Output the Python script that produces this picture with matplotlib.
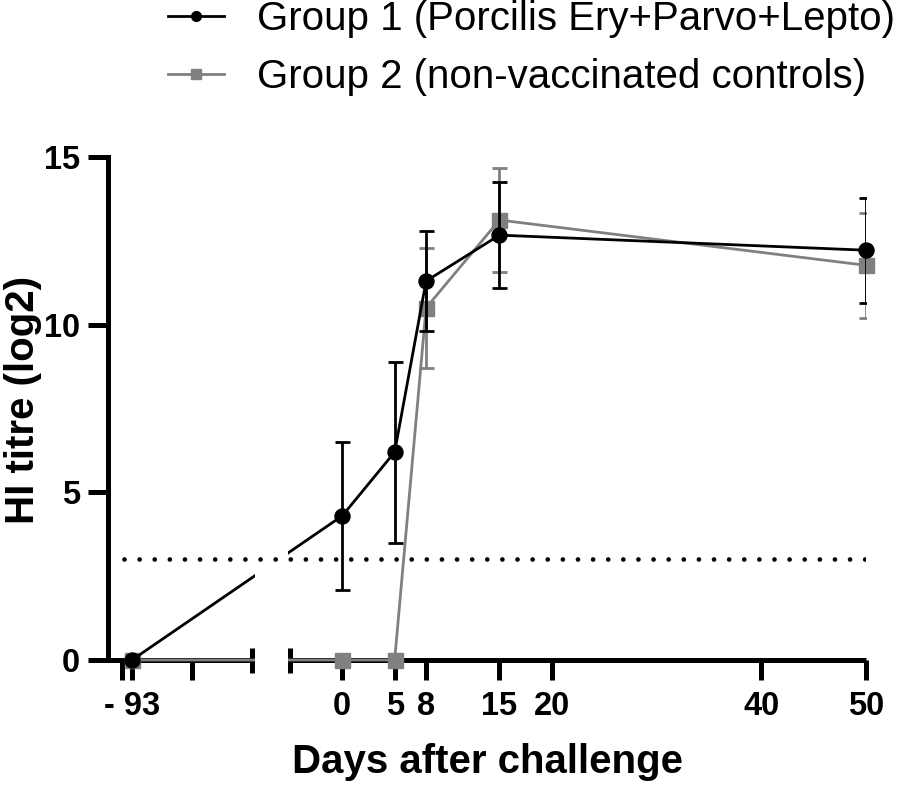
import matplotlib
matplotlib.use('Agg')
import matplotlib.pyplot as plt
import numpy as np
from matplotlib.lines import Line2D
from matplotlib.patches import Rectangle

plt.rcParams['font.family'] = ['Liberation Sans', 'DejaVu Sans']

# data
days = np.array([-93, 0, 5, 8, 15, 50])
g1_mean = np.array([0, 4.3, 6.2, 11.3, 12.67, 12.22])
g1_sd = np.array([0, 2.2, 2.7, 1.5, 1.58, 1.56])
g2_mean = np.array([0, 0, 0, 10.5, 13.12, 11.77])
g2_sd = np.array([0, 0, 0, 1.8, 1.56, 1.57])
threshold = 3

xticks = [-95, -93, -81, 0, 5, 8, 15, 20, 40, 50]
xticklabels = ['', '- 93', '', '0', '5', '8', '15', '20', '40', '50']
yticks = [0, 5, 10, 15]
labels = ['Group 1 (Porcilis Ery+Parvo+Lepto)', 'Group 2 (non-vaccinated controls)']

# broken x axis: piecewise linear scale (left block compressed, gap in between)
seg_x = [-1000, -69, -5, 1000]
seg_u = [132 + 5 * (-1000 + 93), 252, 290, 342 + 10.48 * 1000]


def fwd(x):
    return np.interp(x, seg_x, seg_u)


def inv(u):
    return np.interp(u, seg_u, seg_x)


W, H = 907, 787
fig = plt.figure(figsize=(W / 100, H / 100), dpi=100)
ax = fig.add_axes([108 / W, 1 - 660 / H, (866 - 108) / W, (660 - 157) / H])
ax.set_xscale('function', functions=(fwd, inv))
ax.set_xlim(-97.8, 50)
ax.set_ylim(0, 15)

grey = '#808080'
lw_axis = 3.6
lw_data = 2.0
ms = 10.8

# group 2 (grey) first, group 1 on top
ax.plot(days, g2_mean, color=grey, lw=lw_data, marker='s', ms=ms, clip_on=False, zorder=3)
m2 = g2_sd > 0
ax.errorbar(days[m2], g2_mean[m2], yerr=g2_sd[m2], fmt='none', ecolor=grey,
            elinewidth=lw_data, capsize=5.4, capthick=lw_data, zorder=3)
ax.plot(days, g1_mean, color='black', lw=lw_data, marker='o', ms=ms, clip_on=False, zorder=3.5)
m1 = g1_sd > 0
ax.errorbar(days[m1], g1_mean[m1], yerr=g1_sd[m1], fmt='none', ecolor='black',
            elinewidth=lw_data, capsize=5.4, capthick=lw_data, zorder=3.5)

# white gap hiding the lines at the axis break
ax.add_patch(Rectangle((-64, -0.3), -8.4 - (-64), 15.6, facecolor='white',
                       edgecolor='none', clip_on=False, zorder=4))

# dotted threshold line
ax.plot([-94.6, 50], [threshold, threshold], color='black', lw=3.4,
        ls=(0, (0.001, 3.2)), dash_capstyle='round', zorder=5)

# x axis drawn as two blocks with end caps
for a, b in [(-97.8, -69), (-5, 50)]:
    ax.plot([a, b], [0, 0], color='black', lw=lw_axis, solid_capstyle='butt',
            clip_on=False, zorder=2)
for xc in [-69, -5]:
    ax.plot([xc, xc], [-0.38, 0.36], color='black', lw=lw_axis,
            solid_capstyle='butt', clip_on=False, zorder=2)

for s in ['top', 'right', 'bottom']:
    ax.spines[s].set_visible(False)
ax.spines['left'].set_linewidth(lw_axis)
ax.spines['left'].set_zorder(2)

ax.set_xticks(xticks)
ax.set_xticklabels(xticklabels)
ax.set_yticks(yticks)
ax.tick_params(axis='both', length=14.4, width=lw_axis, labelsize=23.5)
ax.tick_params(axis='x', pad=8)
ax.tick_params(axis='y', pad=5.8)
for t in ax.get_xticklabels() + ax.get_yticklabels():
    t.set_fontweight('bold')
ax.minorticks_off()

ax.set_xlabel('Days after challenge', fontsize=29, fontweight='bold')
ax.set_ylabel('HI titre (log2)', fontsize=29, fontweight='bold')
ax.xaxis.set_label_coords(0.5, -0.165)
ax.yaxis.set_label_coords(-0.087, 0.517)

handles = [Line2D([], [], color='black', lw=lw_data, marker='o', ms=7),
           Line2D([], [], color=grey, lw=lw_data, marker='s', ms=7)]
fig.legend(handles, labels, loc='upper left', bbox_to_anchor=(168 / W, 1.0),
           frameon=False, fontsize=29, handlelength=1.4, handletextpad=0.8,
           labelspacing=0.5, borderpad=0, borderaxespad=0)

fig.savefig('out.png', dpi=100)
